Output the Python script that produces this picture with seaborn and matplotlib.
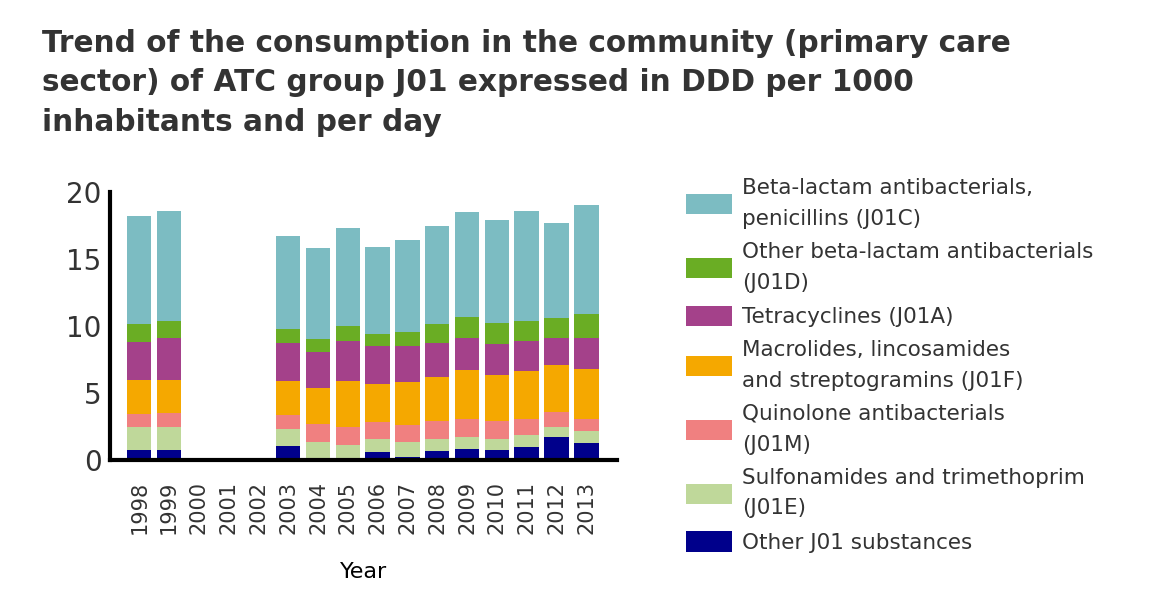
import numpy as np
import pandas as pd
import matplotlib
matplotlib.use("Agg")
import matplotlib.pyplot as plt
from matplotlib.patches import Patch
import seaborn as sns

years = [str(y) for y in range(1998, 2014)]
nan = np.nan
# values per group (DDD per 1000 inhabitants per day), bottom of stack first
other_j01 = [0.78, 0.78, nan, nan, nan, 1.08, 0.18, 0.0, 0.63, 0.25, 0.70, 0.85, 0.78, 1.00, 1.75, 1.30]
sulfonamides = [1.72, 1.65, nan, nan, nan, 1.20, 1.20, 1.15, 0.97, 1.13, 0.90, 0.90, 0.82, 0.83, 0.75, 0.83]
quinolones = [0.90, 1.07, nan, nan, nan, 1.05, 1.27, 1.35, 1.20, 1.20, 1.30, 1.30, 1.30, 1.22, 1.05, 0.92]
macrolides = [2.55, 2.45, nan, nan, nan, 2.55, 2.70, 3.38, 2.85, 3.22, 3.28, 3.65, 3.43, 3.58, 3.53, 3.73]
tetracyclines = [2.85, 3.15, nan, nan, nan, 2.85, 2.70, 3.00, 2.85, 2.70, 2.55, 2.40, 2.32, 2.25, 2.02, 2.32]
other_betalactam = [1.35, 1.28, nan, nan, nan, 1.05, 0.98, 1.12, 0.90, 1.05, 1.42, 1.58, 1.58, 1.50, 1.50, 1.80]
penicillins = [8.03, 8.17, nan, nan, nan, 6.90, 6.82, 7.35, 6.53, 6.90, 7.28, 7.80, 7.65, 8.17, 7.05, 8.10]

labels = [
    "Other J01 substances",
    "Sulfonamides and trimethoprim\n(J01E)",
    "Quinolone antibacterials\n(J01M)",
    "Macrolides, lincosamides\nand streptogramins (J01F)",
    "Tetracyclines (J01A)",
    "Other beta-lactam antibacterials\n(J01D)",
    "Beta-lactam antibacterials,\npenicillins (J01C)",
]
colors = ["#00008B", "#BFD89A", "#F08080", "#F5A800", "#A4418A", "#6AAD24", "#7CBCC2"]
series = [other_j01, sulfonamides, quinolones, macrolides, tetracyclines, other_betalactam, penicillins]

df = pd.DataFrame({"Year": years})
cum = np.zeros(len(years))
cols = []
for i, s in enumerate(series):
    cum = cum + np.array(s, dtype=float)
    name = f"cum{i}"
    df[name] = cum
    cols.append(name)

sns.set_style("white")
plt.rcParams["font.family"] = ["DejaVu Sans"]
text_color = "#333333"

fig = plt.figure(figsize=(11.64, 6.15), dpi=100)
ax = fig.add_axes([110 / 1164, 1 - 460 / 615, (617 - 110) / 1164, (460 - 192) / 615])

for name, c in reversed(list(zip(cols, colors))):
    sns.barplot(data=df, x="Year", y=name, order=years, color=c, saturation=1,
                width=0.82, linewidth=0, errorbar=None, ax=ax)

ax.set_ylim(0, 20)
ax.set_xlim(-0.98, 16.03)
ax.set_yticks([0, 5, 10, 15, 20])
ax.set_yticklabels(["0", "5", "10", "15", "20"], fontsize=20, color=text_color)
ax.set_xticks(range(len(years)))
ax.set_xticklabels(years, rotation=90, fontsize=15, color=text_color)
ax.tick_params(axis="x", length=0, pad=15)
ax.tick_params(axis="y", length=0, pad=6)
ax.set_xlabel("Year", fontsize=16, color="black", labelpad=20)
ax.set_ylabel("")
for side in ["top", "right"]:
    ax.spines[side].set_visible(False)
for side in ["left", "bottom"]:
    ax.spines[side].set_color("black")
    ax.spines[side].set_linewidth(3)

fig.text(42 / 1164, 1 - 29 / 615,
         "Trend of the consumption in the community (primary care\n"
         "sector) of ATC group J01 expressed in DDD per 1000\n"
         "inhabitants and per day",
         ha="left", va="top", fontsize=21.3, fontweight="bold", color=text_color,
         linespacing=1.45)

handles = [Patch(facecolor=c, edgecolor="none") for c in reversed(colors)]
leg = fig.legend(handles, list(reversed(labels)), loc="upper left",
                 bbox_to_anchor=(686 / 1164, 1 - 178 / 615), frameon=False,
                 fontsize=15.5, handlelength=2.14, handleheight=1.07,
                 handletextpad=0.47, labelspacing=0.6, borderaxespad=0,
                 borderpad=0)
for t in leg.get_texts():
    t.set_color(text_color)
    t.set_linespacing(1.68)

fig.savefig("out.png", dpi=100)
